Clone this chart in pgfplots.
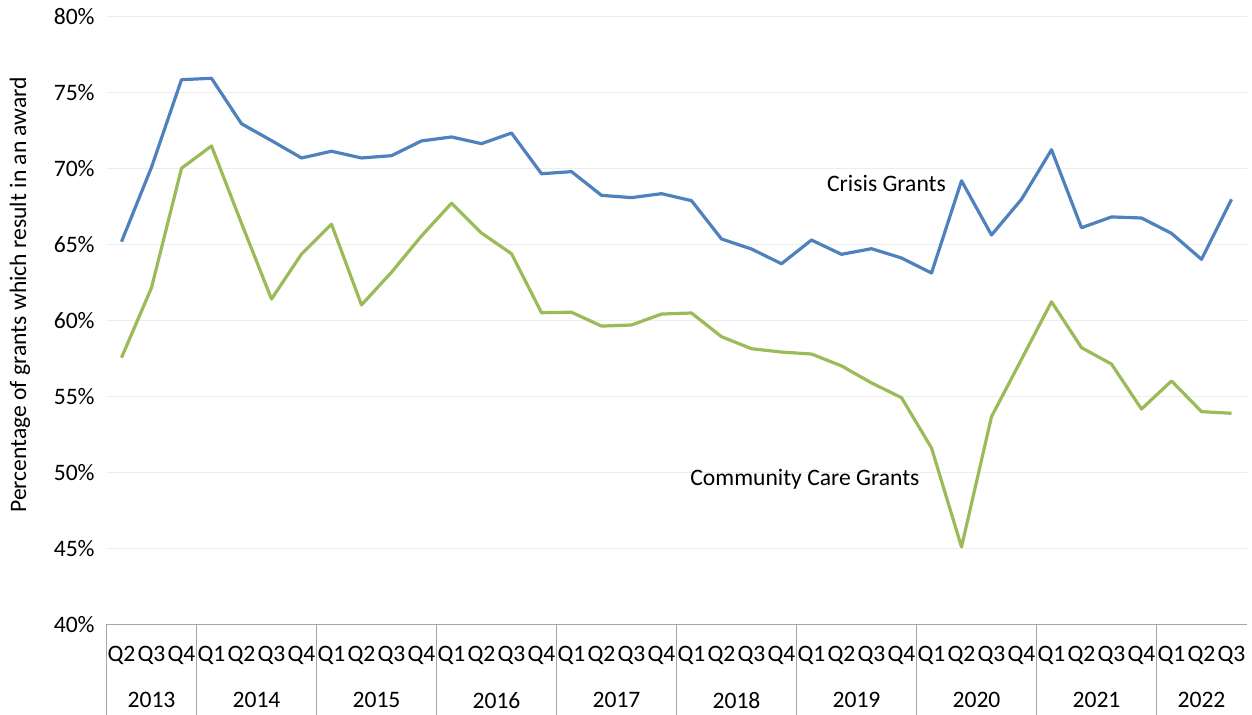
\documentclass[border=0pt]{standalone}
\usepackage{pgfplots}
\pgfplotsset{compat=1.18}
\usepackage{pgfplotstable}
\usepackage{fontspec}
\setmainfont{Carlito}
\usetikzlibrary{calc}

\definecolor{crisis}{HTML}{4F81BD}
\definecolor{ccg}{HTML}{9BBB59}
\definecolor{gridc}{HTML}{EDEDED}
\definecolor{axisc}{HTML}{A6A6A6}

% quarter index 0 = 2013 Q2 ... 37 = 2022 Q3
\pgfplotstableread{
idx crisis ccg
0  65.17 57.54
1  70.07 62.14
2  75.83 70.00
3  75.92 71.47
4  72.93 66.38
5  71.82 61.40
6  70.68 64.36
7  71.12 66.32
8  70.68 61.01
9  70.83 63.16
10 71.80 65.55
11 72.06 67.70
12 71.62 65.74
13 72.32 64.38
14 69.64 60.50
15 69.78 60.53
16 68.22 59.62
17 68.07 59.69
18 68.33 60.41
19 67.87 60.48
20 65.35 58.92
21 64.69 58.13
22 63.72 57.91
23 65.28 57.78
24 64.34 57.00
25 64.71 55.88
26 64.10 54.91
27 63.11 51.60
28 69.18 45.09
29 65.61 53.66
30 67.96 57.43
31 71.22 61.22
32 66.09 58.20
33 66.80 57.12
34 66.73 54.16
35 65.72 56.01
36 64.01 53.99
37 67.96 53.88
}\grants

\begin{document}
\fontsize{11.8}{14}\selectfont
\begin{tikzpicture}
\begin{axis}[
    name=ax,
    at={(0,0)}, anchor=south west,
    scale only axis,
    width=570pt, height=304pt,
    xmin=-0.5, xmax=37.5,
    ymin=40, ymax=80,
    ytick={40,45,...,80},
    yticklabel={\pgfmathprintnumber{\tick}\%},
    xtick={0,...,37},
    xticklabels={Q2,Q3,Q4,
        Q1,Q2,Q3,Q4, Q1,Q2,Q3,Q4, Q1,Q2,Q3,Q4, Q1,Q2,Q3,Q4,
        Q1,Q2,Q3,Q4, Q1,Q2,Q3,Q4, Q1,Q2,Q3,Q4, Q1,Q2,Q3,Q4,
        Q1,Q2,Q3},
    major tick length=0pt,
    ymajorgrids,
    grid style={gridc, line width=0.6pt},
    axis x line*=bottom, axis y line*=left,
    x axis line style={axisc, line width=0.6pt, -},
    y axis line style={draw=none},
    /pgf/number format/assume math mode=true,
    ticklabel style={font=\fontsize{11.8}{14}\selectfont},
    xticklabel style={anchor=center, yshift=-15.5pt, inner sep=0pt},
    yticklabel style={anchor=east, inner sep=0pt, xshift=-5.75pt},
    extra x ticks={-0.5,2.5,6.5,10.5,14.5,18.5,22.5,26.5,30.5,34.5},
    extra x tick labels={},
    extra x tick style={major tick length=45.4pt, tick align=outside,
        tick style={axisc, line width=0.6pt}, grid=none},
    clip=false,
]
\addplot[crisis, line width=1.6pt, line join=round] table[x=idx, y=crisis] {\grants};
\addplot[ccg, line width=1.6pt, line join=round] table[x=idx, y=ccg] {\grants};

\node at (axis cs:25.5,69.03) {Crisis Grants};
\node at (axis cs:22.78,49.56) {Community Care Grants};

\node[yshift=-38pt] at (axis cs:1,40) {2013};
\node[yshift=-38pt] at (axis cs:4.5,40) {2014};
\node[yshift=-38pt] at (axis cs:8.5,40) {2015};
\node[yshift=-38pt] at (axis cs:12.5,40) {2016};
\node[yshift=-38pt] at (axis cs:16.5,40) {2017};
\node[yshift=-38pt] at (axis cs:20.5,40) {2018};
\node[yshift=-38pt] at (axis cs:24.5,40) {2019};
\node[yshift=-38pt] at (axis cs:28.5,40) {2020};
\node[yshift=-38pt] at (axis cs:32.5,40) {2021};
\node[yshift=-38pt] at (axis cs:36,40) {2022};
\end{axis}
\node[rotate=90] at ($(ax.south west)+(-43.25pt,0.542*304pt)$)
    {Percentage of grants which result in an award};
\pgfresetboundingbox
\path[use as bounding box] ($(ax.south west)+(-53.25pt,-45.35pt)$)
    rectangle ($(ax.north east)+(2.75pt,8.15pt)$);
\end{tikzpicture}
\end{document}
